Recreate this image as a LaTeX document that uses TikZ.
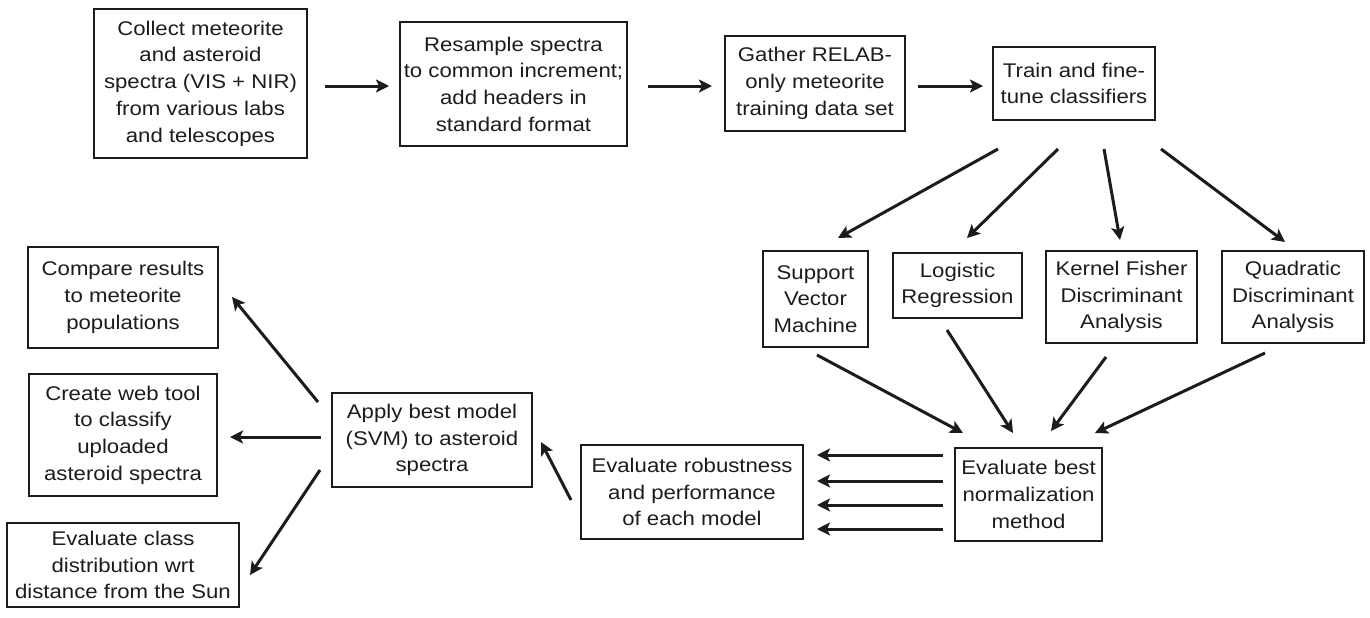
\documentclass[tikz,border=0pt]{standalone}
\usepackage{fontspec}
\setmainfont{Liberation Sans}[FakeStretch=1.12]
\usetikzlibrary{arrows.meta}
\definecolor{ink}{HTML}{1C1C1C}
\tikzset{
  box/.style={draw=ink, line width=0.75pt, align=center, inner sep=0pt, text=ink,
    font=\fontsize{9.9}{13.35}\selectfont},
  arr/.style={draw=ink, line width=1.5pt, -{Stealth[length=6.5pt,width=6.5pt,inset=1.5pt]}}
}
\newcommand{\bx}[7][]{\node[box,#1,minimum width=#5*0.5pt,minimum height=#6*0.5pt] (#2) at (#3,#4) {#7};}
\begin{document}
\begin{tikzpicture}[x=0.5pt,y=-0.5pt]
\useasboundingbox (0,0) rectangle (1370,617);
% boxes
\bx{collect}{200.5}{83.5}{213}{149}{Collect meteorite\\and asteroid\\spectra (VIS + NIR)\\from various labs\\and telescopes}
\bx{resample}{513.5}{84}{227}{124}{Resample spectra\\to common increment;\\add headers in\\standard format}
\bx{gather}{815}{83.5}{180}{95}{Gather RELAB-\\only meteorite\\training data set}
\bx{train}{1074}{83.5}{162}{73}{Train and fine-\\tune classifiers}
\bx{svm}{815.5}{299}{105}{96}{Support\\Vector\\Machine}
\bx{lr}{957.5}{285.5}{129}{65}{Logistic\\Regression}
\bx{kfda}{1121.5}{297}{151}{92}{Kernel Fisher\\Discriminant\\Analysis}
\bx{qda}{1293}{297}{142}{92}{Quadratic\\Discriminant\\Analysis}
\bx{norm}{1028.5}{494.5}{147}{93}{Evaluate best\\normalization\\method}
\bx{robust}{692}{492}{222}{94}{Evaluate robustness\\and performance\\of each model}
\bx{apply}{432}{440}{200}{94}{Apply best model\\(SVM) to asteroid\\spectra}
\bx{compare}{123}{297.5}{190}{101}{Compare results\\to meteorite\\populations}
\bx{web}{123}{435}{188}{122}{Create web tool\\to classify\\uploaded\\asteroid spectra}
\bx{evalclass}{123}{565}{232}{84}{Evaluate class\\distribution wrt\\distance from the Sun}
% arrow end points
\coordinate (a1s) at (325,86);  \coordinate (a1e) at (389,86);
\coordinate (a2s) at (648,86);  \coordinate (a2e) at (712,86);
\coordinate (a3s) at (918,86);  \coordinate (a3e) at (983,86);
\coordinate (f1s) at (998,149); \coordinate (f1e) at (838,238);
\coordinate (f2s) at (1058,149);\coordinate (f2e) at (967,238);
\coordinate (f3s) at (1104,149);\coordinate (f3e) at (1120,240);
\coordinate (f4s) at (1161,149);\coordinate (f4e) at (1285,242);
\coordinate (g1s) at (817,355); \coordinate (g1e) at (963,433);
\coordinate (g2s) at (947,330); \coordinate (g2e) at (1013,433);
\coordinate (g3s) at (1106,357);\coordinate (g3e) at (1051,431);
\coordinate (g4s) at (1265,353);\coordinate (g4e) at (1095,433);
\coordinate (h1s) at (943,455); \coordinate (h1e) at (817,455);
\coordinate (h2s) at (943,481); \coordinate (h2e) at (817,481);
\coordinate (h3s) at (943,505); \coordinate (h3e) at (817,505);
\coordinate (h4s) at (943,529); \coordinate (h4e) at (817,529);
\coordinate (rs) at (571,500);  \coordinate (re) at (541,442);
\coordinate (l1s) at (318,402); \coordinate (l1e) at (232,297);
\coordinate (l2s) at (321,437); \coordinate (l2e) at (230,437);
\coordinate (l3s) at (320,470); \coordinate (l3e) at (250,575);
% arrows
\foreach \a in {a1,a2,a3,f1,f2,f3,f4,g1,g2,g3,g4,h1,h2,h3,h4,r,l1,l2,l3}
  \draw[arr] (\a s) -- (\a e);
\end{tikzpicture}
\end{document}
